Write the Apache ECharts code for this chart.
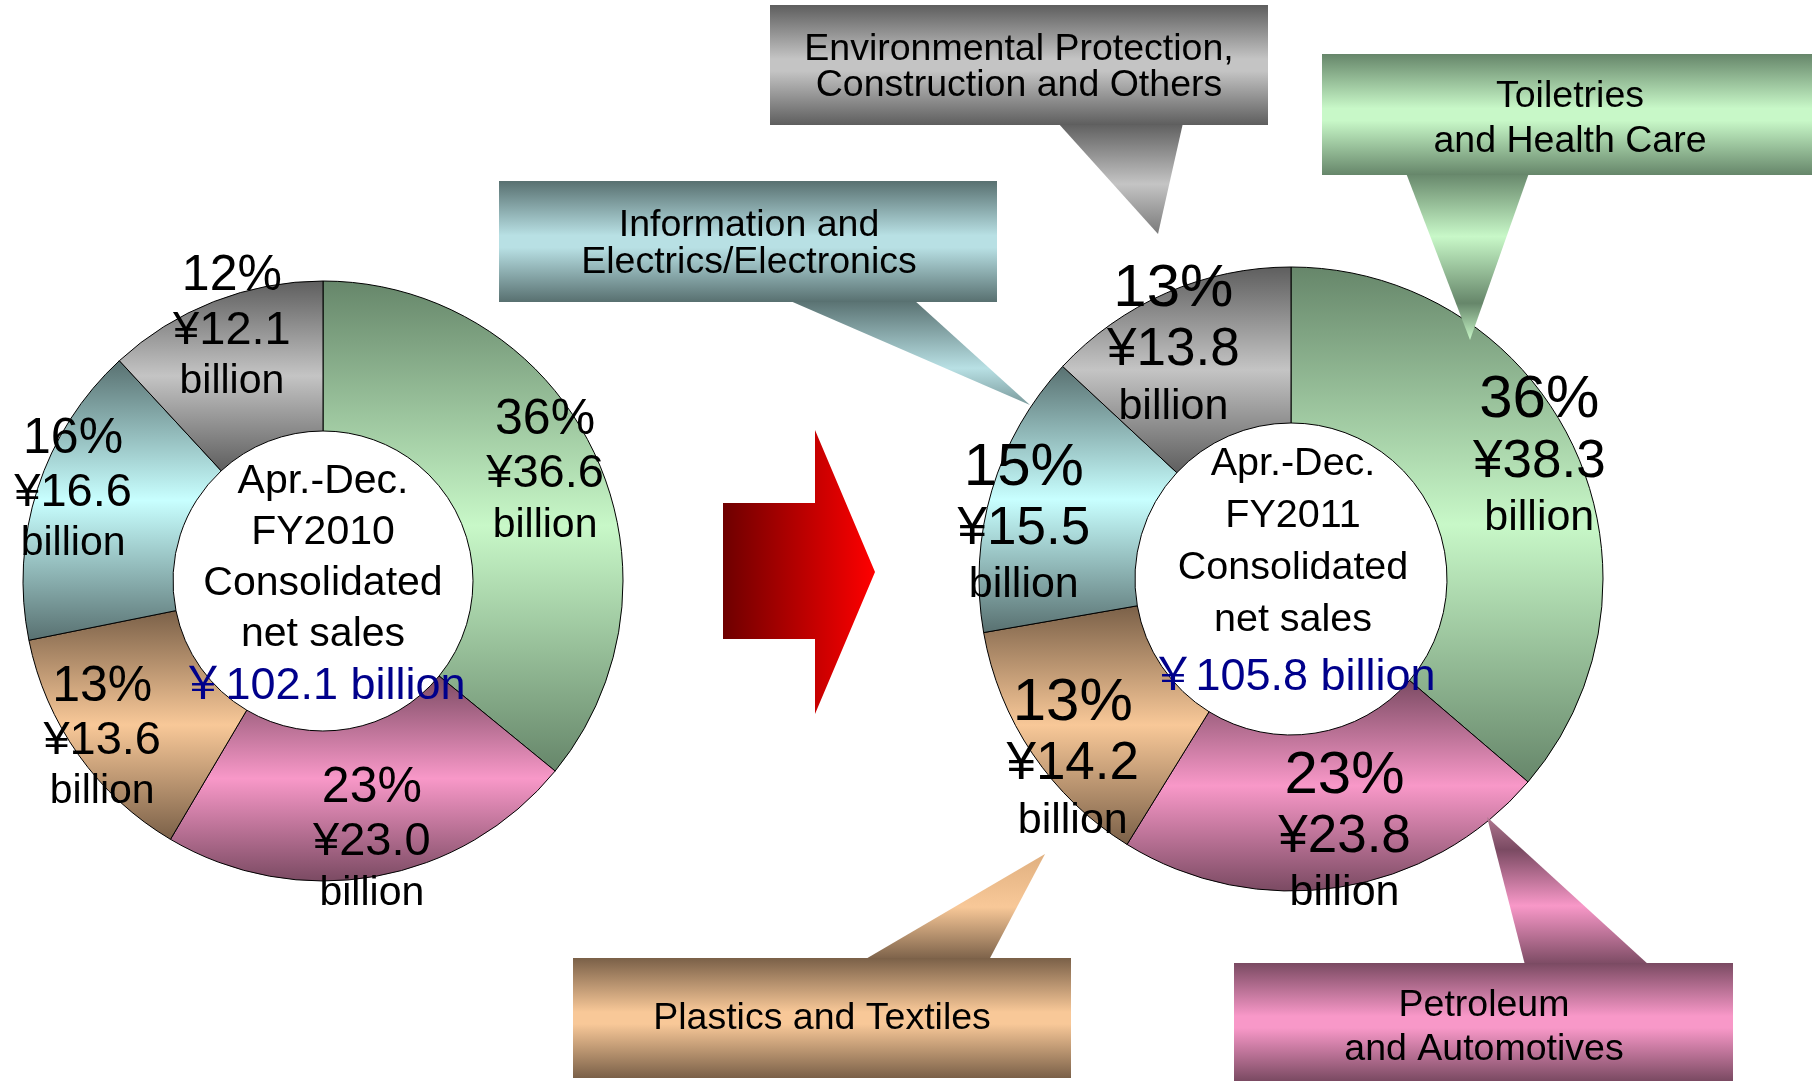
<!DOCTYPE html>
<html>
<head>
<meta charset="utf-8">
<title>Consolidated net sales by segment</title>
<script src="https://cdn.jsdelivr.net/npm/echarts@6/dist/echarts.min.js"></script>
<style>
  html, body { margin: 0; padding: 0; background: #ffffff; }
  #chart { width: 1812px; height: 1081px; }
</style>
</head>
<body>
<div id="chart"></div>
<script>
// ---- data -------------------------------------------------------------
const segments = [
  'Toiletries and Health Care',
  'Petroleum and Automotives',
  'Plastics and Textiles',
  'Information and Electrics/Electronics',
  'Environmental Protection, Construction and Others'
];
const calloutLines = [
  ['Toiletries', 'and Health Care'],
  ['Petroleum', 'and Automotives'],
  ['Plastics and Textiles'],
  ['Information and', 'Electrics/Electronics'],
  ['Environmental Protection,', 'Construction and Others']
];
const sales2010 = [36.6, 23.0, 13.6, 16.6, 12.1];   // ¥ billion
const sales2011 = [38.3, 23.8, 14.2, 15.5, 13.8];   // ¥ billion
const periodNames = ['FY2010', 'FY2011'];
const totals = [102.1, 105.8];                      // ¥ billion

// ---- styles -----------------------------------------------------------
const FONT = "'Liberation Sans', Arial, Helvetica, sans-serif";
const FONT_YEN = "'Liberation Sans', 'Noto Sans CJK JP', sans-serif";

const SHADES = [
  { dark: '#66866a', light: '#c8f8c8' },   // green
  { dark: '#7a4a62', light: '#f898c8' },   // pink
  { dark: '#7a6048', light: '#f8c898' },   // tan
  { dark: '#587070', light: '#c8ffff' },   // teal
  { dark: '#5e5e5e', light: '#c4c4c4' }    // gray
];
const BOX_LIGHT = ['#c8f8c8', '#f898c8', '#f8c898', '#b8e0e4', '#c4c4c4'];

function vGrad(stops) {
  return new echarts.graphic.LinearGradient(0, 0, 0, 1,
    stops.map(([offset, color]) => ({ offset, color })));
}
function hGrad(stops) {
  return new echarts.graphic.LinearGradient(0, 0, 1, 0,
    stops.map(([offset, color]) => ({ offset, color })));
}

// per-slice nudges of the value labels away from the ring mid-line
const LABEL_SHIFT_2010 = [[16, -12], [9, 34], [-35, 25], [-33, -21], [-8, -41]];
const LABEL_SHIFT_2011 = [[33, -23], [17, 19], [-22, 48], [-40, 13], [-23, -16]];

function donut(values, center, radius, fonts, shifts) {
  const base = {
    color: '#000', fontFamily: FONT,
    textShadowColor: '#9a9a9a', textShadowOffsetX: 3, textShadowOffsetY: 3, textShadowBlur: 0
  };
  return {
    type: 'pie',
    center: center,
    radius: radius,
    startAngle: 90,
    clockwise: true,
    silent: true,
    animation: false,
    percentPrecision: 0,
    avoidLabelOverlap: false,
    itemStyle: { borderColor: '#000', borderWidth: 1 },
    label: {
      show: true,
      position: 'inside',
      color: '#000',
      fontFamily: FONT,
      textShadowColor: '#9a9a9a', textShadowOffsetX: 3, textShadowOffsetY: 3, textShadowBlur: 0,
      formatter: p => `{p|${p.percent}%}\n{v|¥${p.value.toFixed(1)}}\n{b|billion}`,
      rich: {
        p: Object.assign({ fontSize: fonts[0], lineHeight: fonts[3] }, base),
        v: Object.assign({ fontSize: fonts[1], lineHeight: fonts[4] }, base),
        b: Object.assign({ fontSize: fonts[2], lineHeight: fonts[5] }, base)
      }
    },
    labelLine: { show: false },
    labelLayout: p => ({ dx: shifts[p.dataIndex][0], dy: shifts[p.dataIndex][1] }),
    data: values.map((v, i) => ({
      name: segments[i],
      value: v,
      itemStyle: { color: vGrad([[0, SHADES[i].dark], [0.5, SHADES[i].light], [1, SHADES[i].dark]]) }
    }))
  };
}

// ---- annotations ------------------------------------------------------
// callout boxes: [x, y, w, h], pointer triangle, text centre, line height, pointer gradient
const CALLOUTS = [
  { box: [1322, 54, 490, 121], tri: [[1406, 173], [1529, 173], [1470, 340]], text: [1570, 119], lh: 45,
    triStops: i => [[0, SHADES[i].dark], [0.38, SHADES[i].light], [0.78, SHADES[i].dark], [1, SHADES[i].light]] },
  { box: [1234, 963, 499, 118], tri: [[1525, 965], [1649, 965], [1487, 817]], text: [1484, 1028], lh: 44,
    triStops: i => [[0, '#b07890'], [0.22, SHADES[i].dark], [0.6, SHADES[i].light], [1, SHADES[i].dark]] },
  { box: [573, 958, 498, 120], tri: [[864, 960], [989, 960], [1045, 854]], text: [822, 1019], lh: 44,
    triStops: i => [[0, '#e0b080'], [0.5, SHADES[i].light], [1, SHADES[i].dark]] },
  { box: [499, 181, 498, 121], tri: [[788, 300], [914, 300], [1030, 405]], text: [749, 244], lh: 37,
    triStops: i => [[0, SHADES[i].dark], [0.65, BOX_LIGHT[i]], [1, '#7a9a9c']] },
  { box: [770, 5, 498, 120], tri: [[1058, 123], [1183, 123], [1158, 234]], text: [1019, 68], lh: 36,
    triStops: i => [[0, SHADES[i].dark], [0.55, SHADES[i].light], [1, '#7a7a7a']] }
];

const graphics = [];

// transition arrow between the two periods
graphics.push({
  type: 'polygon', z: 5, silent: true,
  shape: { points: [[723, 503], [815, 503], [815, 430], [875, 572], [815, 714], [815, 639], [723, 639]] },
  style: { fill: hGrad([[0, '#6e0000'], [1, '#ff0000']]) }
});

CALLOUTS.forEach((c, i) => {
  graphics.push({
    type: 'polygon', z: 20, silent: true,
    shape: { points: c.tri },
    style: { fill: vGrad(c.triStops(i)) }
  });
  graphics.push({
    type: 'rect', z: 21, silent: true,
    shape: { x: c.box[0], y: c.box[1], width: c.box[2], height: c.box[3] },
    style: { fill: vGrad([[0, SHADES[i].dark], [0.45, BOX_LIGHT[i]], [0.55, BOX_LIGHT[i]], [1, SHADES[i].dark]]) }
  });
  graphics.push({
    type: 'text', z: 22, silent: true,
    x: c.text[0], y: c.text[1],
    style: {
      text: calloutLines[i].join('\n'),
      fontFamily: FONT, fontSize: 37.5, lineHeight: c.lh,
      fill: '#000', align: 'center', verticalAlign: 'middle',
      textShadowColor: '#ffffff', textShadowOffsetX: 2, textShadowOffsetY: 2, textShadowBlur: 0
    }
  });
});

// captions in the hole of each donut
function centerCaption(x, y, k, fs, lh, fsTotal, lhTotal) {
  return {
    type: 'text', z: 15, silent: true,
    x: x, y: y,
    style: {
      text: `{t|Apr.-Dec.}\n{t|${periodNames[k]}}\n{t|Consolidated}\n{t|net sales}\n{n|￥${totals[k].toFixed(1)} billion}`,
      align: 'center', verticalAlign: 'middle',
      rich: {
        t: { fontFamily: FONT, fontSize: fs, lineHeight: lh, fill: '#000', align: 'center' },
        n: { fontFamily: FONT_YEN, fontSize: fsTotal, lineHeight: lhTotal, fill: '#00008b', align: 'center' }
      }
    }
  };
}
graphics.push(centerCaption(323, 585, 0, 41, 51, 45, 54));
graphics.push(centerCaption(1293, 574, 1, 39.5, 52, 45, 64));

// ---- chart ------------------------------------------------------------
const chart = echarts.init(document.getElementById('chart'), null, { renderer: 'canvas' });
chart.setOption({
  animation: false,
  backgroundColor: '#ffffff',
  series: [
    donut(sales2010, [323, 581], [150, 300], [50, 47, 41, 54, 54, 48], LABEL_SHIFT_2010),
    donut(sales2011, [1291, 579], [156, 312], [60, 53, 43, 62, 60, 52], LABEL_SHIFT_2011)
  ],
  graphic: { elements: graphics }
});
</script>
</body>
</html>
